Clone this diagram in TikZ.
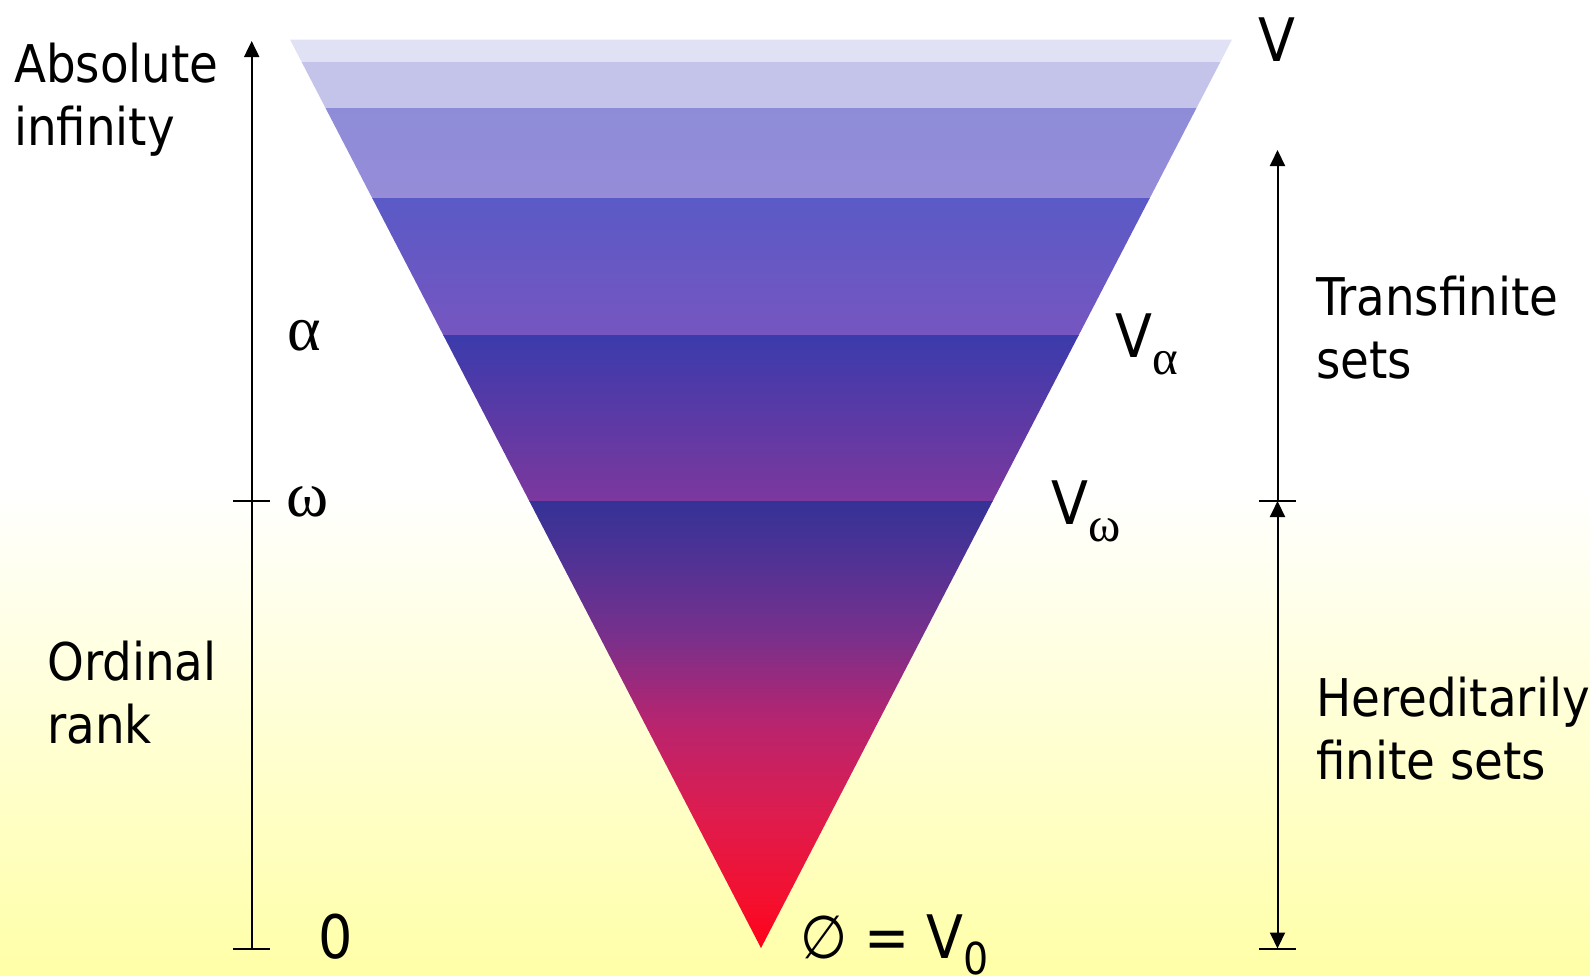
\documentclass[tikz,border=0pt]{standalone}
\usepackage{fontspec}
\setmainfont{DejaVu Sans Condensed}
\newfontfamily\grk{Liberation Serif}
\usetikzlibrary{arrows.meta}
\definecolor{bgy}{RGB}{255,255,168}
\definecolor{bA}{RGB}{225,225,245}
\definecolor{bB}{RGB}{196,195,234}
\definecolor{bCt}{RGB}{142,140,216}
\definecolor{bCb}{RGB}{150,140,216}
\definecolor{bDt}{RGB}{90,90,198}
\definecolor{bDb}{RGB}{118,86,192}
\definecolor{bEt}{RGB}{59,59,172}
\definecolor{bEb}{RGB}{124,56,158}
\definecolor{s75}{RGB}{53,50,150}
\definecolor{s68}{RGB}{82,50,148}
\definecolor{s60}{RGB}{120,48,140}
\definecolor{s50}{RGB}{185,36,110}
\definecolor{s40}{RGB}{222,28,78}
\definecolor{s30}{RGB}{245,15,45}
\definecolor{s25}{RGB}{255,0,25}
\pgfdeclareverticalshading{bandsix}{100bp}{color(0bp)=(s25); color(25bp)=(s25); color(30bp)=(s30); color(40bp)=(s40); color(50bp)=(s50); color(60bp)=(s60); color(68bp)=(s68); color(75bp)=(s75); color(100bp)=(s75)}
\newcommand{\subg}[1]{{\fontsize{49}{49}\grk\lower17pt\hbox{#1}}}
\newcommand{\subn}[1]{{\fontsize{44}{44}\selectfont\lower16pt\hbox{#1}}}
\begin{document}
\begin{tikzpicture}[x=1pt,y=-1pt,
  lbl/.style={inner sep=0pt, anchor=base west, align=left, font=\fontsize{52}{63}\selectfont},
  vlbl/.style={inner sep=0pt, anchor=base west, font=\fontsize{60}{60}\selectfont},
  grkl/.style={inner sep=0pt, anchor=base west, font=\fontsize{64}{64}\grk},
  ax/.style={line width=2pt, black},
  tip/.style={-{Triangle[width=15pt,length=16pt]}},
  tips/.style={{Triangle[width=15pt,length=16pt]}-{Triangle[width=15pt,length=16pt]}}]
\useasboundingbox (0,0) rectangle (1590,975);
\fill[white] (0,0) rectangle (1590,975);
\shade[top color=white, bottom color=bgy] (0,487) rectangle (1590,975);
% cone
\coordinate (TL) at (290,39.5);
\coordinate (TR) at (1232,39.5);
\coordinate (tipV) at (761,948);
\begin{scope}
\clip (TL) -- (TR) -- (tipV) -- cycle;
\fill[bA] (280,39) rectangle (1240,62);
\fill[bB] (280,62) rectangle (1240,108);
\shade[top color=bCt, bottom color=bCb] (280,108) rectangle (1240,198);
\shade[top color=bDt, bottom color=bDb] (280,198) rectangle (1240,335);
\shade[top color=bEt, bottom color=bEb] (280,335) rectangle (1240,501);
\shade[shading=bandsix] (280,501) rectangle (1240,949);
\end{scope}
% left axis
\coordinate (Lbot) at (251.7,948.5);
\coordinate (Lw) at (251.7,501);
\coordinate (Ltop) at (251.7,41);
\draw[ax,tip] (Lbot) -- (Ltop);
\draw[ax] ([xshift=-18.5pt]Lw) -- ([xshift=18.5pt]Lw);
\draw[ax] ([xshift=-18.5pt]Lbot) -- ([xshift=18.5pt]Lbot);
% right axis
\coordinate (Rtop) at (1277.5,150);
\coordinate (Rw) at (1277.5,501);
\coordinate (Rbot) at (1277.5,948.5);
\draw[ax,tip] (Rw) -- (Rtop);
\draw[ax,tips] (Rw) -- (Rbot);
\draw[ax] ([xshift=-18.5pt]Rw) -- ([xshift=18.5pt]Rw);
\draw[ax] ([xshift=-18.5pt]Rbot) -- ([xshift=18.5pt]Rbot);
% labels
\node[lbl] (abs) at (14,145) {Absolute\\infinity};
\node[lbl] (ord) at (47,743) {Ordinal\\rank};
\node[vlbl] (zero) at (318,958) {0};
\node[grkl] (alpha) at (287,350) {α};
\node[grkl] (omega) at (286,516) {ω};
\node[vlbl] (V) at (1258,61) {V};
\node[vlbl] (Va) at (1115,357) {V\subg{α}};
\node[vlbl] (Vw) at (1051,524) {V\subg{ω}};
\node[vlbl] (V0) at (800,958) {∅ = V\subn{0}};
\node[lbl] (trans) at (1316,378) {Transfinite\\sets};
\node[lbl] (her) at (1316,779) {Hereditarily\\finite sets};
\end{tikzpicture}
\end{document}
